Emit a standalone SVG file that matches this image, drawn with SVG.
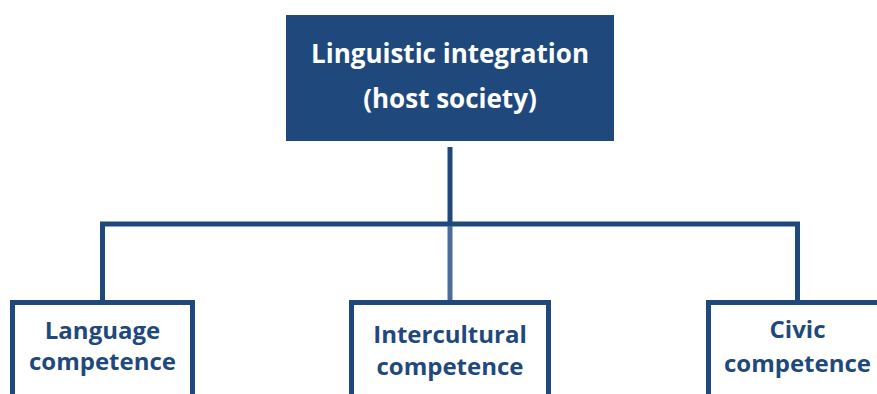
<svg xmlns="http://www.w3.org/2000/svg" width="877" height="394" viewBox="0 0 877 394">
<style>
.box{fill:#ffffff;stroke:#1f497d;stroke-width:5}
.top{fill:#1f497d}
.lbl{font-family:"Open Sans","Liberation Sans",sans-serif;font-weight:bold;font-size:24px;fill:#1f497d;text-anchor:middle}
.tlbl{font-family:"Open Sans","Liberation Sans",sans-serif;font-weight:bold;font-size:26px;fill:#ffffff;text-anchor:middle}
.con{fill:none;stroke:#1f497d;stroke-width:5;stroke-linejoin:miter}
</style>
<rect width="877" height="394" fill="#ffffff"/>
<g id="connectors">
<line class="con" x1="450" y1="147" x2="450" y2="224" stroke-width="6"/>
<polyline class="con" points="102.5,300 102.5,224 797.5,224 797.5,300"/>
<line class="con" x1="450" y1="226" x2="450" y2="300" style="stroke:#4a6c9a"/>
</g>
<g id="n-top">
<rect class="top" x="286" y="15" width="328" height="126"/>
<text class="tlbl" x="450" y="63">Linguistic integration</text>
<text class="tlbl" x="450" y="108">(host society)</text>
</g>
<g id="n-language">
<rect class="box" x="12.5" y="302.5" width="180" height="100"/>
<text class="lbl" x="102.5" y="339">Language</text>
<text class="lbl" x="102.5" y="370">competence</text>
</g>
<g id="n-intercultural">
<rect class="box" x="351.5" y="302.5" width="197" height="100"/>
<text class="lbl" x="450" y="343">Intercultural</text>
<text class="lbl" x="450" y="375">competence</text>
</g>
<g id="n-civic">
<rect class="box" x="708.5" y="302.5" width="178" height="100"/>
<text class="lbl" x="797.5" y="338">Civic</text>
<text class="lbl" x="797.5" y="372">competence</text>
</g>
</svg>
